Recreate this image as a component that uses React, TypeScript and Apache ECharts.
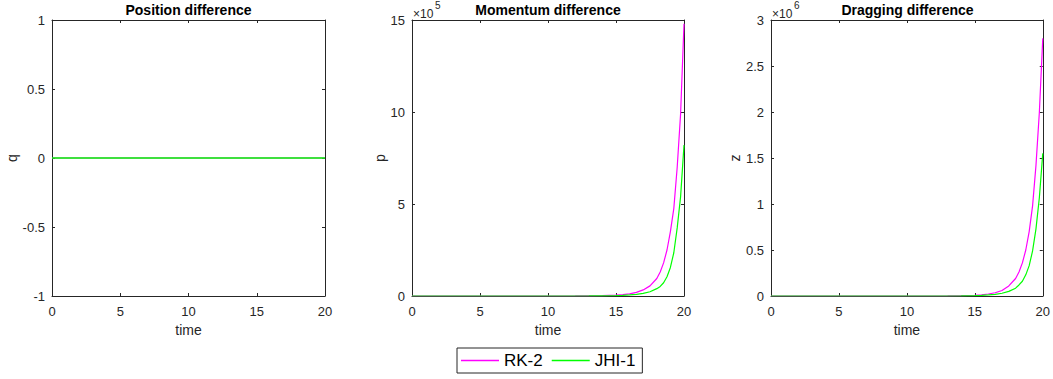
import React, { useEffect, useRef } from "react";
import * as echarts from "echarts";

// ---- data ----
const panelTitles = ["Position difference", "Momentum difference", "Dragging difference"];
const yNames = ["q", "p", "z"];
const xName = "time";
const seriesNames = ["RK-2", "JHI-1"];
const exponentLabels = ["", "5", "6"]; // ×10^n multipliers shown on panels

const positionTimes = [0, 5, 10, 15, 20];
const positionRK2 = [0, 0, 0, 0, 0];
const positionJHI1 = [0, 0, 0, 0, 0];

const times = [0, 1, 2, 3, 4, 5, 6, 7, 8, 9, 10, 11, 12, 13, 14, 15, 15.5, 16, 16.5, 17, 17.5, 18,
  18.25, 18.5, 18.75, 19, 19.25, 19.5, 19.75, 20];

// momentum difference, in units of 1e5
const momentumRK2 = [0, 0, 0, 0, 0, 0, 0, 0, 0, 0, 0, 0.001, 0.002, 0.006, 0.017, 0.045,
  0.075, 0.12, 0.2, 0.33, 0.55, 0.95, 1.3, 1.8, 2.5, 3.5, 4.75, 7.0, 9.9, 14.8];
const momentumJHI1 = [0, 0, 0, 0, 0, 0, 0, 0, 0, 0, 0, 0, 0.001, 0.003, 0.008, 0.02,
  0.035, 0.06, 0.09, 0.14, 0.23, 0.4, 0.52, 0.72, 1.05, 1.55, 2.35, 3.7, 5.4, 8.2];

// dragging difference, in units of 1e6
const draggingRK2 = [0, 0, 0, 0, 0, 0, 0, 0, 0, 0, 0, 0, 0, 0.001, 0.003, 0.008,
  0.013, 0.022, 0.035, 0.06, 0.11, 0.19, 0.26, 0.36, 0.5, 0.7, 0.98, 1.42, 2.0, 2.8];
const draggingJHI1 = [0, 0, 0, 0, 0, 0, 0, 0, 0, 0, 0, 0, 0, 0, 0.0015, 0.004,
  0.007, 0.012, 0.018, 0.03, 0.05, 0.085, 0.12, 0.16, 0.23, 0.33, 0.49, 0.73, 1.07, 1.55];

const xMin = 0, xMax = 20, xInterval = 5;
const yRanges = [
  { min: -1, max: 1, interval: 0.5 },
  { min: 0, max: 15, interval: 5 },
  { min: 0, max: 3, interval: 0.5 },
];

const colors = ["#ff00ff", "#00ff00"];

// ---- layout ----
const FONT = '"Liberation Sans", Arial, Helvetica, sans-serif';
const AX = "#262626";
const grids = [
  { left: 52, top: 20, width: 273, height: 276 },
  { left: 412, top: 20, width: 272, height: 276 },
  { left: 771, top: 20, width: 273, height: 276 },
];
const yNameGaps = [33, 22, 22];

function pairs(xs: number[], ys: number[]) {
  return xs.map((x, i) => [x, ys[i]]);
}

export default function App() {
  const ref = useRef<HTMLDivElement>(null);

  useEffect(() => {
    if (!ref.current) return;
    const chart = echarts.init(ref.current, null, { renderer: "svg" });

    const panelData = [
      [pairs(positionTimes, positionRK2), pairs(positionTimes, positionJHI1)],
      [pairs(times, momentumRK2), pairs(times, momentumJHI1)],
      [pairs(times, draggingRK2), pairs(times, draggingJHI1)],
    ];

    const axisLine = { show: true, onZero: false, lineStyle: { color: AX, width: 1 } };
    const axisTick = { show: true, inside: true, length: 3, lineStyle: { color: AX, width: 1 } };

    const xAxis: any[] = [];
    const yAxis: any[] = [];
    grids.forEach((_, i) => {
      xAxis.push({
        type: "value", gridIndex: i, position: "bottom", min: xMin, max: xMax, interval: xInterval,
        axisLine, axisTick, splitLine: { show: false },
        axisLabel: { color: AX, fontSize: 13, fontFamily: FONT, margin: 9 },
        name: xName, nameLocation: "middle", nameGap: 25,
        nameTextStyle: { color: AX, fontSize: 14, fontFamily: FONT },
      });
      xAxis.push({
        type: "value", gridIndex: i, position: "top", min: xMin, max: xMax, interval: xInterval,
        axisLine, axisTick, splitLine: { show: false }, axisLabel: { show: false },
      });
      const r = yRanges[i];
      yAxis.push({
        type: "value", gridIndex: i, position: "left", min: r.min, max: r.max, interval: r.interval,
        axisLine, axisTick, splitLine: { show: false },
        axisLabel: { color: AX, fontSize: 13, fontFamily: FONT, margin: 7 },
        name: yNames[i], nameLocation: "middle", nameGap: yNameGaps[i], nameRotate: 90,
        nameTextStyle: { color: AX, fontSize: 14, fontFamily: FONT },
      });
      yAxis.push({
        type: "value", gridIndex: i, position: "right", min: r.min, max: r.max, interval: r.interval,
        axisLine, axisTick, splitLine: { show: false }, axisLabel: { show: false },
      });
    });

    const series: any[] = [];
    panelData.forEach((pd, i) => {
      pd.forEach((d, k) => {
        series.push({
          type: "line", name: seriesNames[k], xAxisIndex: 2 * i, yAxisIndex: 2 * i,
          data: d, symbol: "none", showSymbol: false,
          lineStyle: { color: colors[k], width: i === 0 && k === 1 ? 1.6 : 1.2 },
          itemStyle: { color: colors[k] },
          z: 2 + k,
        });
      });
    });

    const graphic: any[] = [];
    grids.forEach((g, i) => {
      graphic.push({
        type: "text", x: g.left + g.width / 2, y: 10,
        style: {
          text: panelTitles[i], fill: "#000", font: `bold 14px ${FONT}`,
          textAlign: "center", textVerticalAlign: "middle", align: "center", verticalAlign: "middle",
        },
      });
      if (exponentLabels[i]) {
        graphic.push({
          type: "text", x: g.left + 1, y: 13.5,
          style: {
            text: "×10", fill: AX, font: `12px ${FONT}`,
            textAlign: "left", textVerticalAlign: "middle", align: "left", verticalAlign: "middle",
          },
        });
        graphic.push({
          type: "text", x: g.left + 23, y: 5.5,
          style: {
            text: exponentLabels[i], fill: AX, font: `10px ${FONT}`,
            textAlign: "left", textVerticalAlign: "middle", align: "left", verticalAlign: "middle",
          },
        });
      }
    });

    chart.setOption({
      animation: false,
      backgroundColor: "#fff",
      textStyle: { fontFamily: FONT },
      grid: grids.map((g) => ({ ...g, containLabel: false })),
      xAxis,
      yAxis,
      series,
      legend: {
        data: seriesNames, left: 457, top: 348, orient: "horizontal",
        icon: "rect",
        padding: [4, 7, 4, 4], itemWidth: 38, itemHeight: 1.3, itemGap: 9,
        borderColor: AX, borderWidth: 1, backgroundColor: "#fff",
        textStyle: { color: "#000", fontSize: 17, fontFamily: FONT },
      },
      graphic,
    });

    return () => chart.dispose();
  }, []);

  return (
    <div
      ref={ref}
      style={{ position: "absolute", left: 0, top: 0, width: 1053, height: 379 }}
    />
  );
}
